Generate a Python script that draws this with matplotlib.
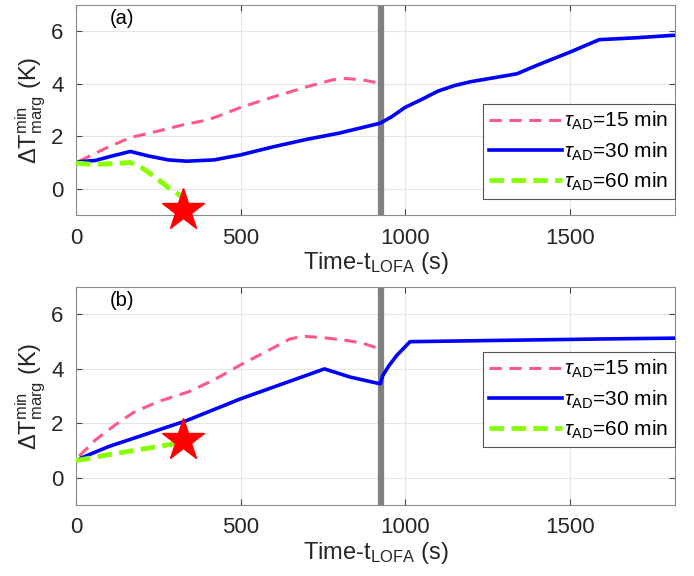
import matplotlib
matplotlib.use('Agg')
import matplotlib.pyplot as plt

plt.rcParams['font.family'] = ['Liberation Sans', 'DejaVu Sans']
plt.rcParams['mathtext.fontset'] = 'custom'
plt.rcParams['mathtext.rm'] = 'Liberation Sans'
plt.rcParams['mathtext.it'] = 'Liberation Sans:italic'

# panel (a)
t15_a = [10, 50, 100, 165, 250, 330, 400, 450, 500, 600, 700, 780, 820, 870, 910, 925]
y15_a = [1.05, 1.3, 1.6, 1.95, 2.2, 2.45, 2.62, 2.85, 3.1, 3.5, 3.88, 4.15, 4.2, 4.15, 4.05, 3.9]
t30_a = [10, 60, 110, 165, 220, 280, 336, 420, 500, 600, 700, 800, 925, 960, 1000, 1050,
         1100, 1150, 1200, 1280, 1340, 1400, 1500, 1590, 1700, 1820]
y30_a = [1.03, 1.08, 1.25, 1.42, 1.25, 1.1, 1.05, 1.1, 1.29, 1.6, 1.88, 2.12, 2.5, 2.75, 3.1, 3.4,
         3.72, 3.93, 4.08, 4.25, 4.38, 4.7, 5.2, 5.68, 5.75, 5.85]
t60_a = [0, 50, 100, 165, 200, 240, 280, 310, 320]
y60_a = [0.98, 0.93, 0.95, 1.0, 0.8, 0.45, 0.05, -0.2, -0.3]
star_a = (324, -0.82)

# panel (b)
t15_b = [10, 60, 120, 175, 250, 340, 420, 500, 580, 650, 690, 750, 820, 870, 920]
y15_b = [0.8, 1.4, 1.95, 2.4, 2.8, 3.15, 3.6, 4.15, 4.65, 5.1, 5.2, 5.15, 5.05, 4.95, 4.75]
t30_b = [15, 50, 100, 175, 336, 500, 755, 833, 925, 932, 950, 975, 1015, 1300, 1600, 1820]
y30_b = [0.72, 0.9, 1.15, 1.45, 2.1, 2.9, 4.0, 3.7, 3.45, 3.75, 4.1, 4.5, 5.0, 5.05, 5.1, 5.13]
t60_b = [0, 100, 200, 300]
y60_b = [0.63, 0.85, 1.05, 1.25]
star_b = (326, 1.38)

t_switch = 928
labels = [r'$\tau_{\rm AD}$=15 min', r'$\tau_{\rm AD}$=30 min', r'$\tau_{\rm AD}$=60 min']

pink = '#ff5a87'
blue = '#0000ff'
green = '#88ff00'

fig = plt.figure(figsize=(6.94, 5.76), dpi=100)
ax1 = fig.add_axes([0.1095, 0.6267, 0.863, 0.3646])
ax2 = fig.add_axes([0.1095, 0.1233, 0.863, 0.378])

panels = [
    (ax1, '(a)', t15_a, y15_a, t30_a, y30_a, t60_a, y60_a, star_a, 0.076),
    (ax2, '(b)', t15_b, y15_b, t30_b, y30_b, t60_b, y60_b, star_b, 0.266),
]

for ax, tag, t15, y15, t30, y30, t60, y60, star, leg_y in panels:
    ax.axvline(t_switch, color='#808080', lw=4.5, zorder=1)
    ax.plot(t15, y15, '--', color=pink, lw=2.2, dashes=(4, 2.5), label=labels[0], zorder=3)
    ax.plot(t30, y30, '-', color=blue, lw=2.6, label=labels[1], zorder=3)
    ax.plot(t60, y60, '--', color=green, lw=3.5, dashes=(3, 1.5), label=labels[2], zorder=3)
    ax.plot(star[0], star[1], marker='*', color='red', markersize=32, zorder=4,
            markeredgecolor='red', clip_on=False)
    ax.set_xlim(0, 1820)
    ax.set_ylim(-1, 7)
    ax.set_xticks([0, 500, 1000, 1500])
    ax.set_yticks([0, 2, 4, 6])
    ax.grid(True, color='#e6e6e6', lw=0.8)
    ax.set_axisbelow(True)
    ax.tick_params(direction='in', top=True, right=True, labelsize=16, length=4,
                   color='#444444', labelcolor='#262626', pad=9)
    for s in ax.spines.values():
        s.set_color('#8c8c8c')
    ax.set_xlabel(r'Time-t$_{\rm LOFA}$ (s)', fontsize=17, color='#262626', labelpad=1)
    ax.set_ylabel(r'$\Delta$T$^{\rm min}_{\rm marg}$ (K)', fontsize=17, color='#262626', labelpad=2)
    ax.text(140, 6.5, tag, fontsize=14.5, ha='center', va='center')
    leg = ax.legend(loc='lower right', bbox_to_anchor=(1.0, leg_y), fontsize=15,
                    frameon=True, fancybox=False, edgecolor='#555555', handlelength=3.5,
                    handletextpad=0.1, borderpad=0.3, labelspacing=0.38, borderaxespad=0,
                    framealpha=1)
    leg.get_frame().set_linewidth(0.8)

fig.savefig('out.png', dpi=100)
